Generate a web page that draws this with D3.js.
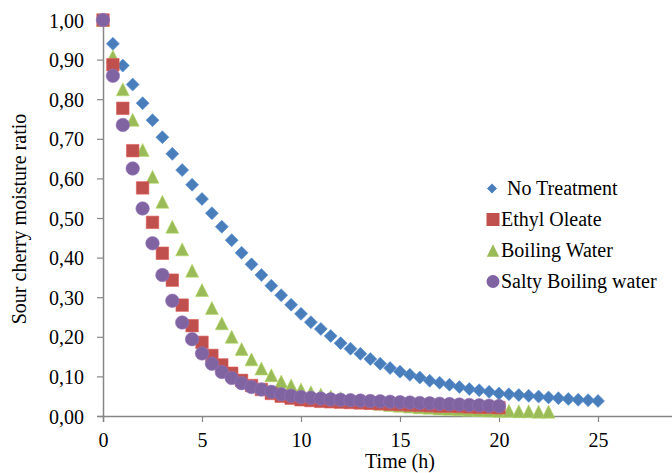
<!DOCTYPE html>
<html>
<head>
<meta charset="utf-8">
<script src="https://cdn.jsdelivr.net/npm/d3@7"></script>
<style>
  body { margin: 0; background: #fff; }
</style>
</head>
<body>
<div id="chart-area"></div>
<script>
// drying time (h), one reading every half hour
const hours = [0, 0.5, 1, 1.5, 2, 2.5, 3, 3.5, 4, 4.5, 5, 5.5, 6, 6.5, 7, 7.5, 8, 8.5, 9, 9.5,
  10, 10.5, 11, 11.5, 12, 12.5, 13, 13.5, 14, 14.5, 15, 15.5, 16, 16.5, 17, 17.5, 18, 18.5, 19, 19.5,
  20, 20.5, 21, 21.5, 22, 22.5, 23, 23.5, 24, 24.5, 25];

const seriesNames = ["No Treatment", "Ethyl Oleate", "Boiling Water", "Salty Boiling water"];

const noTreatment = [1.000, 0.940, 0.885, 0.837, 0.790, 0.747, 0.704, 0.662, 0.621, 0.584,
  0.548, 0.512, 0.478, 0.444, 0.412, 0.383, 0.356, 0.329, 0.305, 0.281,
  0.258, 0.237, 0.220, 0.202, 0.184, 0.170, 0.157, 0.144, 0.132, 0.121,
  0.112, 0.104, 0.097, 0.089, 0.084, 0.079, 0.073, 0.068, 0.065, 0.061,
  0.057, 0.055, 0.053, 0.051, 0.049, 0.047, 0.045, 0.043, 0.041, 0.040, 0.038];

const ethylOleate = [1.000, 0.887, 0.777, 0.670, 0.576, 0.489, 0.411, 0.343, 0.280, 0.228,
  0.186, 0.153, 0.129, 0.108, 0.090, 0.077, 0.067, 0.057, 0.050, 0.045,
  0.041, 0.039, 0.037, 0.036, 0.035, 0.034, 0.033, 0.032, 0.031, 0.030,
  0.029, 0.028, 0.027, 0.026, 0.025, 0.025, 0.024, 0.023, 0.022, 0.022, 0.021];

const boilingWater = [1.000, 0.908, 0.825, 0.748, 0.672, 0.604, 0.541, 0.478, 0.421, 0.367,
  0.318, 0.273, 0.234, 0.200, 0.169, 0.143, 0.120, 0.103, 0.087, 0.077,
  0.067, 0.060, 0.054, 0.049, 0.045, 0.041, 0.037, 0.034, 0.031, 0.028,
  0.026, 0.024, 0.022, 0.021, 0.019, 0.018, 0.017, 0.016, 0.015, 0.014,
  0.013, 0.013, 0.012, 0.012, 0.011, 0.011];

const saltyBoiling = [1.000, 0.859, 0.735, 0.625, 0.524, 0.436, 0.356, 0.291, 0.236, 0.194,
  0.158, 0.132, 0.111, 0.096, 0.083, 0.073, 0.067, 0.061, 0.055, 0.051,
  0.048, 0.046, 0.044, 0.042, 0.041, 0.040, 0.039, 0.038, 0.037, 0.036,
  0.035, 0.034, 0.033, 0.032, 0.031, 0.030, 0.029, 0.028, 0.027, 0.026, 0.025];

const xTicks = [0, 5, 10, 15, 20, 25];
const yTicks = [0, 0.1, 0.2, 0.3, 0.4, 0.5, 0.6, 0.7, 0.8, 0.9, 1.0];

const width = 672;
const height = 473;
const plot = { left: 103, top: 20, right: 697, bottom: 416 };
const serif = "'Liberation Serif', 'Times New Roman', serif";
const fontSize = "20px";

const svg = d3.select("#chart-area")
  .append("svg")
  .attr("width", width)
  .attr("height", height)
  .style("font-family", serif);

// Escalas
const x = d3.scaleLinear().domain([0, 30]).range([plot.left, plot.right]);
const y = d3.scaleLinear().domain([0, 1]).range([plot.bottom, plot.top]);

const colors = ["#4a7ebb", "#c0504d", "#9bbb59", "#8064a2"];

// marker shapes (Excel style: diamond, square, triangle, circle)
const shapes = [
  s => { const h = s / 2; return `M0,${-h}L${h},0L0,${h}L${-h},0Z`; },
  s => { const h = s / 2; return `M${-h},${-h}H${h}V${h}H${-h}Z`; },
  s => { const h = s / 2; return `M0,${-h}L${h},${h}L${-h},${h}Z`; },
  s => { const r = s / 2; return `M${r},0A${r},${r} 0 1,1 ${-r},0A${r},${r} 0 1,1 ${r},0Z`; }
];
const sizes = [13, 12.5, 13, 13.5];
const legendSizes = [10, 13, 12.5, 13];

// Ejes
const bottomAxis = d3.axisBottom(x).tickValues(xTicks).tickSize(6).tickFormat(d3.format("d"));
const gx = svg.append("g")
  .attr("transform", `translate(0, ${plot.bottom})`)
  .call(bottomAxis)
  .attr("font-family", null);
gx.select(".domain").attr("stroke", "#868686").attr("stroke-width", 1.5);
gx.selectAll(".tick line").attr("stroke", "#868686").attr("stroke-width", 1.2);
gx.selectAll("text").attr("font-size", fontSize).attr("dy", "1.1em").attr("fill", "#000")
  .style("font-family", serif);

const leftAxis = d3.axisLeft(y).tickValues(yTicks).tickSize(6)
  .tickFormat(d => d3.format(".2f")(d).replace(".", ","));
const gy = svg.append("g")
  .attr("transform", `translate(${plot.left}, 0)`)
  .call(leftAxis)
  .attr("font-family", null);
gy.select(".domain").attr("stroke", "#868686").attr("stroke-width", 1.5);
gy.selectAll(".tick line").attr("stroke", "#868686").attr("stroke-width", 1.2);
gy.selectAll("text").attr("font-size", fontSize).attr("x", -19).attr("dy", "0.35em").attr("fill", "#000")
  .style("font-family", serif);

// Etiquetas de los ejes
svg.append("text")
  .attr("x", 400)
  .attr("y", 468)
  .attr("font-size", fontSize)
  .attr("text-anchor", "middle")
  .style("font-family", serif)
  .text("Time (h)");

svg.append("text")
  .attr("transform", "translate(26, 219) rotate(-90)")
  .attr("font-size", fontSize)
  .attr("text-anchor", "middle")
  .style("font-family", serif)
  .text("Sour cherry moisture ratio");

// Puntos (drawing order: no treatment, boiling water, ethyl oleate, salty)
const allSeries = [noTreatment, ethylOleate, boilingWater, saltyBoiling];
const drawOrder = [0, 2, 1, 3];

drawOrder.forEach(i => {
  const pts = allSeries[i].map((v, k) => ({ t: hours[k], v: v }));
  svg.append("g")
    .selectAll("path")
    .data(pts)
    .enter()
    .append("path")
    .attr("d", shapes[i](sizes[i]))
    .attr("transform", d => `translate(${x(d.t)}, ${y(d.v)})`)
    .attr("fill", colors[i])
    .attr("stroke", d3.color(colors[i]).brighter(0.4))
    .attr("stroke-width", 0.6);
});

// Leyenda
const legendBase = [195, 226, 257, 288];
const legend = svg.append("g");
seriesNames.forEach((name, i) => {
  legend.append("path")
    .attr("d", shapes[i](legendSizes[i]))
    .attr("transform", `translate(${i === 0 ? 492 : 493}, ${legendBase[i] - 6.5})`)
    .attr("fill", colors[i]);
  legend.append("text")
    .attr("x", i === 0 ? 507 : 501)
    .attr("y", legendBase[i])
    .attr("font-size", fontSize)
    .style("font-family", serif)
    .text(name);
});
</script>
</body>
</html>
